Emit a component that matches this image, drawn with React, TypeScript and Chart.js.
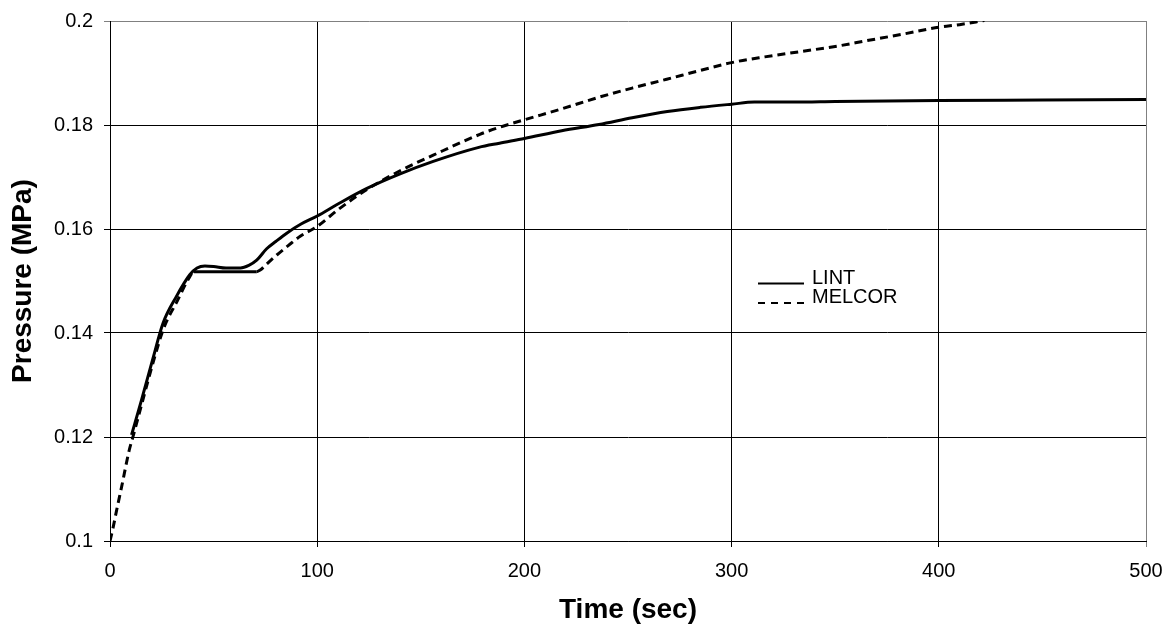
import { useEffect, useRef } from "react";
import { Chart, registerables } from "chart.js";

Chart.register(...registerables);

// Axis ticks
const timeTicks = [0, 100, 200, 300, 400, 500];
const pressureTicks = [0.1, 0.12, 0.14, 0.16, 0.18, 0.2];

// LINT calculation: time (s) and pressure (MPa)
const lintTime = [
  10.4, 15.2, 20.8, 25.5, 32, 38.5, 42, 45.8, 50, 56, 63, 67, 70.8, 75.6, 80, 85.3, 92, 100, 110,
  124, 140, 156, 178, 188, 200, 218, 236, 252, 269, 285, 300, 311, 330, 350, 400, 450, 500,
];
const lintPressure = [
  0.1204, 0.1271, 0.1352, 0.1418, 0.147, 0.1512, 0.1525, 0.1529, 0.1528, 0.1525, 0.1525, 0.153,
  0.154, 0.1562, 0.1576, 0.1592, 0.1609, 0.1625, 0.1648, 0.1678, 0.1706, 0.173, 0.1757, 0.1765,
  0.1774, 0.1789, 0.1801, 0.1814, 0.1826, 0.1834, 0.184, 0.1844, 0.1844, 0.1845, 0.1847, 0.1848,
  0.1849,
];

// MELCOR calculation: time (s) and pressure (MPa)
const melcorTime = [
  0, 1.4, 3.5, 5.6, 9.3, 11.4, 15.5, 21, 26, 32.5, 38, 40.5, 55, 70.8, 72.5, 76, 80.5, 86, 91.8,
  100, 110, 124, 140, 156, 178.5, 188.3, 200, 218, 236.5, 252, 268.7, 285, 300, 316, 333, 350,
  365, 383, 400, 410, 422,
];
const melcorPressure = [
  0.1, 0.1024, 0.1065, 0.1104, 0.1175, 0.1205, 0.1266, 0.1346, 0.141, 0.1462, 0.1505, 0.1518,
  0.1518, 0.1518, 0.1521, 0.1534, 0.155, 0.1568, 0.1586, 0.1605, 0.1637, 0.1676, 0.1712, 0.1742,
  0.1782, 0.1796, 0.181, 0.1831, 0.1854, 0.1871, 0.1888, 0.1905, 0.192, 0.1931, 0.1941, 0.1951,
  0.1962, 0.1975, 0.1988, 0.1993, 0.2001,
];

// Time range over which the MELCOR pressure holds flat
const melcorPlateau = [40.5, 70.8];

const FONT = "'Liberation Sans', Arial, Helvetica, sans-serif";
const DASH = [8, 5];

// Inline legend drawn inside the plot area
const inlineLegend = {
  id: "inlineLegend",
  afterDraw(chart: any) {
    const { ctx, chartArea } = chart;
    const x0 = chartArea.left + 648;
    const x1 = x0 + 46;
    const tx = x1 + 8;
    const rows = [
      { label: "LINT", dash: [] as number[], y: chartArea.top + 262.5 },
      { label: "MELCOR", dash: [7, 6], y: chartArea.top + 282 },
    ];
    ctx.save();
    ctx.font = `20px ${FONT}`;
    ctx.fillStyle = "#000";
    ctx.textBaseline = "alphabetic";
    ctx.textAlign = "left";
    for (const r of rows) {
      ctx.beginPath();
      ctx.setLineDash(r.dash);
      ctx.lineWidth = 2;
      ctx.strokeStyle = "#000";
      ctx.moveTo(x0, r.y);
      ctx.lineTo(x1, r.y);
      ctx.stroke();
      ctx.fillText(r.label, tx, r.y);
    }
    ctx.restore();
  },
};

export default function App() {
  const canvasRef = useRef<HTMLCanvasElement>(null);

  useEffect(() => {
    const canvas = canvasRef.current;
    if (!canvas) return;

    const chart = new Chart(canvas, {
      type: "line",
      data: {
        datasets: [
          {
            label: "LINT",
            data: lintTime.map((t, i) => ({ x: t, y: lintPressure[i] })),
            borderColor: "#000",
            borderWidth: 3,
            pointRadius: 0,
            cubicInterpolationMode: "monotone",
            fill: false,
          },
          {
            label: "MELCOR",
            data: melcorTime.map((t, i) => ({ x: t, y: melcorPressure[i] })),
            borderColor: "#000",
            borderWidth: 3,
            borderDash: DASH,
            borderCapStyle: "butt",
            pointRadius: 0,
            cubicInterpolationMode: "monotone",
            fill: false,
            segment: {
              borderDash: (c: any) =>
                c.p0.parsed.x >= melcorPlateau[0] && c.p1.parsed.x <= melcorPlateau[1]
                  ? []
                  : DASH,
            },
          },
        ],
      },
      options: {
        responsive: false,
        animation: false,
        layout: { padding: { top: 21, right: 18, bottom: 0, left: 0 } },
        plugins: {
          legend: { display: false },
          tooltip: { enabled: false },
        },
        scales: {
          x: {
            type: "linear",
            min: timeTicks[0],
            max: timeTicks[timeTicks.length - 1],
            afterBuildTicks: (s: any) => {
              s.ticks = timeTicks.map((v) => ({ value: v }));
            },
            afterFit: (s: any) => {
              s.height = 90;
              s.paddingLeft = 0;
              s.paddingRight = 0;
            },
            ticks: {
              color: "#000",
              font: { family: FONT, size: 20 },
              padding: 12,
              maxRotation: 0,
              callback: (v: any) => String(v),
            },
            grid: {
              color: (c: any) =>
                c.tick && c.tick.value === timeTicks[timeTicks.length - 1] ? "#808080" : "#000",
              lineWidth: 1,
              tickLength: 6,
            },
            border: { color: "#000", width: 1 },
            title: {
              display: true,
              text: "Time (sec)",
              color: "#000",
              font: { family: FONT, size: 28, weight: "bold" },
              padding: { top: 0, bottom: 4 },
            },
          },
          y: {
            type: "linear",
            min: pressureTicks[0],
            max: pressureTicks[pressureTicks.length - 1],
            afterBuildTicks: (s: any) => {
              s.ticks = pressureTicks.map((v) => ({ value: v }));
            },
            afterFit: (s: any) => {
              s.width = 110;
              s.paddingTop = 0;
              s.paddingBottom = 0;
            },
            ticks: {
              color: "#000",
              font: { family: FONT, size: 20 },
              padding: 11,
              callback: (v: any) => String(Number(Number(v).toFixed(2))),
            },
            grid: {
              color: (c: any) =>
                c.tick && Math.abs(c.tick.value - pressureTicks[pressureTicks.length - 1]) < 1e-9
                  ? "#808080"
                  : "#000",
              lineWidth: 1,
              tickLength: 6,
            },
            border: { color: "#000", width: 1 },
            title: {
              display: true,
              text: "Pressure (MPa)",
              color: "#000",
              font: { family: FONT, size: 28, weight: "bold" },
              padding: { top: 6, bottom: 0 },
            },
          },
        },
      },
      plugins: [inlineLegend],
    });

    return () => chart.destroy();
  }, []);

  return (
    <div
      style={{
        position: "absolute",
        left: 0,
        top: 0,
        width: 1164,
        height: 631,
        background: "#fff",
      }}
    >
      <canvas ref={canvasRef} width={1164} height={631} />
    </div>
  );
}
